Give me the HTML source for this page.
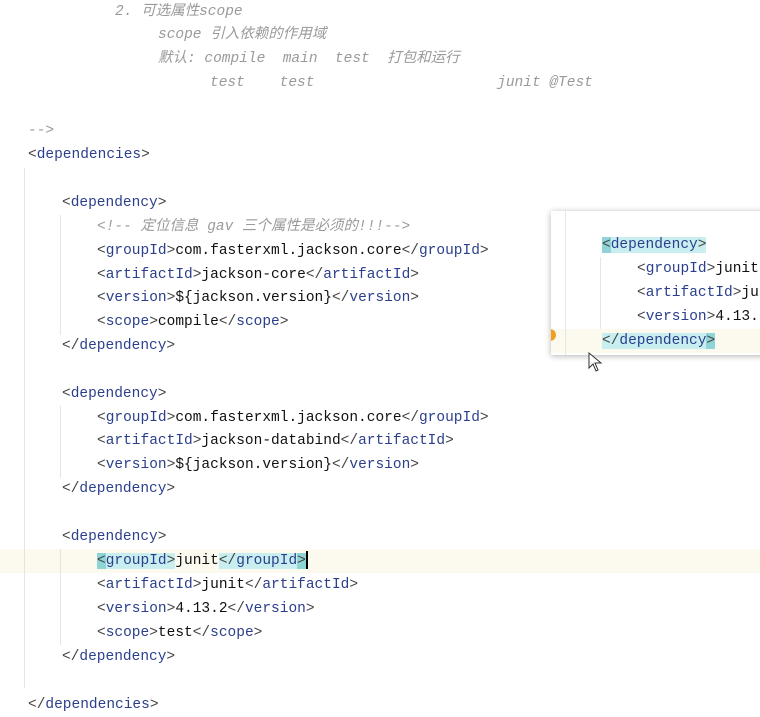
<!DOCTYPE html>
<html><head><meta charset="utf-8"><style>
body{margin:0;width:760px;height:715px;background:#fff;position:relative;overflow:hidden;font-family:"Liberation Mono","Noto Sans CJK SC",monospace;font-size:14.5px;}
.l{position:absolute;height:24px;line-height:24px;white-space:pre;color:#111;}
.c{color:#9a9a9a;font-style:italic;}
.t{color:#2b3f8c;}
.b{color:#444;}
.g{position:absolute;width:1px;background:#e4e4e4;}
.hl{background:#c9eef0;}
.hb{background:#8fd4d6;}
</style></head><body>
<div style="position:absolute;left:0;top:549px;width:760px;height:24px;background:#fcfaee"></div>
<div class="g" style="left:24px;top:168px;height:520px"></div>
<div class="g" style="left:60px;top:215px;height:120px"></div>
<div class="g" style="left:60px;top:406px;height:72px"></div>
<div class="g" style="left:60px;top:549px;height:96px"></div>

<div class="l c" style="left:115px;top:0px">2. 可选属性scope</div>
<div class="l c" style="left:158px;top:23px">scope 引入依赖的作用域</div>
<div class="l c" style="left:158px;top:47px">默认: compile  main  test  打包和运行</div>
<div class="l c" style="left:210px;top:71px">test    test                     junit @Test</div>
<div class="l c" style="left:28px;top:119px">--&gt;</div>
<div class="l" style="left:28px;top:143px"><span class="b">&lt;</span><span class="t">dependencies</span><span class="b">&gt;</span></div>

<div class="l" style="left:62px;top:191px"><span class="b">&lt;</span><span class="t">dependency</span><span class="b">&gt;</span></div>
<div class="l c" style="left:97px;top:215px">&lt;!-- 定位信息 gav 三个属性是必须的!!!--&gt;</div>
<div class="l" style="left:97px;top:239px"><span class="b">&lt;</span><span class="t">groupId</span><span class="b">&gt;</span>com.fasterxml.jackson.core<span class="b">&lt;/</span><span class="t">groupId</span><span class="b">&gt;</span></div>
<div class="l" style="left:97px;top:263px"><span class="b">&lt;</span><span class="t">artifactId</span><span class="b">&gt;</span>jackson-core<span class="b">&lt;/</span><span class="t">artifactId</span><span class="b">&gt;</span></div>
<div class="l" style="left:97px;top:286px"><span class="b">&lt;</span><span class="t">version</span><span class="b">&gt;</span>${jackson.version}<span class="b">&lt;/</span><span class="t">version</span><span class="b">&gt;</span></div>
<div class="l" style="left:97px;top:310px"><span class="b">&lt;</span><span class="t">scope</span><span class="b">&gt;</span>compile<span class="b">&lt;/</span><span class="t">scope</span><span class="b">&gt;</span></div>
<div class="l" style="left:62px;top:334px"><span class="b">&lt;/</span><span class="t">dependency</span><span class="b">&gt;</span></div>

<div class="l" style="left:62px;top:382px"><span class="b">&lt;</span><span class="t">dependency</span><span class="b">&gt;</span></div>
<div class="l" style="left:97px;top:406px"><span class="b">&lt;</span><span class="t">groupId</span><span class="b">&gt;</span>com.fasterxml.jackson.core<span class="b">&lt;/</span><span class="t">groupId</span><span class="b">&gt;</span></div>
<div class="l" style="left:97px;top:429px"><span class="b">&lt;</span><span class="t">artifactId</span><span class="b">&gt;</span>jackson-databind<span class="b">&lt;/</span><span class="t">artifactId</span><span class="b">&gt;</span></div>
<div class="l" style="left:97px;top:453px"><span class="b">&lt;</span><span class="t">version</span><span class="b">&gt;</span>${jackson.version}<span class="b">&lt;/</span><span class="t">version</span><span class="b">&gt;</span></div>
<div class="l" style="left:62px;top:477px"><span class="b">&lt;/</span><span class="t">dependency</span><span class="b">&gt;</span></div>

<div class="l" style="left:62px;top:525px"><span class="b">&lt;</span><span class="t">dependency</span><span class="b">&gt;</span></div>
<div class="l" style="left:97px;top:549px"><span class="hl"><span class="b hb">&lt;</span><span class="t">groupId</span><span class="b">&gt;</span></span>junit<span class="hl"><span class="b">&lt;/</span><span class="t">groupId</span><span class="b hb">&gt;</span></span><span style="display:inline-block;width:2px;height:18px;background:#000;vertical-align:middle"></span></div>
<div class="l" style="left:97px;top:573px"><span class="b">&lt;</span><span class="t">artifactId</span><span class="b">&gt;</span>junit<span class="b">&lt;/</span><span class="t">artifactId</span><span class="b">&gt;</span></div>
<div class="l" style="left:97px;top:597px"><span class="b">&lt;</span><span class="t">version</span><span class="b">&gt;</span>4.13.2<span class="b">&lt;/</span><span class="t">version</span><span class="b">&gt;</span></div>
<div class="l" style="left:97px;top:621px"><span class="b">&lt;</span><span class="t">scope</span><span class="b">&gt;</span>test<span class="b">&lt;/</span><span class="t">scope</span><span class="b">&gt;</span></div>
<div class="l" style="left:62px;top:645px"><span class="b">&lt;/</span><span class="t">dependency</span><span class="b">&gt;</span></div>
<div class="l" style="left:28px;top:693px"><span class="b">&lt;/</span><span class="t">dependencies</span><span class="b">&gt;</span></div>

<!-- popup -->
<div style="position:absolute;left:551px;top:211px;width:215px;height:144px;background:#fff;box-shadow:0 1px 6px rgba(0,0,0,0.3);overflow:hidden">
  <div style="position:absolute;left:0;top:118px;width:215px;height:24px;background:#fcfaee"></div>
  <div style="position:absolute;left:14px;top:0;width:1px;height:144px;background:#e6e6e6"></div>
  <div style="position:absolute;left:49px;top:46px;width:1px;height:72px;background:#e6e6e6"></div>
  <div style="position:absolute;left:-4px;top:118px;width:9px;height:12px;border-radius:0 6px 6px 0;background:#f0a020"></div>
  <div class="l" style="left:51px;top:22px"><span class="hl"><span class="b hb">&lt;</span><span class="t">dependency</span><span class="b">&gt;</span></span></div>
  <div class="l" style="left:86px;top:46px"><span class="b">&lt;</span><span class="t">groupId</span><span class="b">&gt;</span>junit</div>
  <div class="l" style="left:86px;top:70px"><span class="b">&lt;</span><span class="t">artifactId</span><span class="b">&gt;</span>jun</div>
  <div class="l" style="left:86px;top:94px"><span class="b">&lt;</span><span class="t">version</span><span class="b">&gt;</span>4.13.</div>
  <div class="l" style="left:51px;top:118px"><span class="hl"><span class="b">&lt;/</span><span class="t">dependency</span><span class="b hb">&gt;</span></span></div>
</div>
<svg style="position:absolute;left:588px;top:352px" width="16" height="22"><path d="M1 1 L1 16 L5 12 L8 19 L10 18 L7 11 L13 11 Z" fill="#fff" stroke="#333" stroke-width="1"/></svg>
</body></html>
